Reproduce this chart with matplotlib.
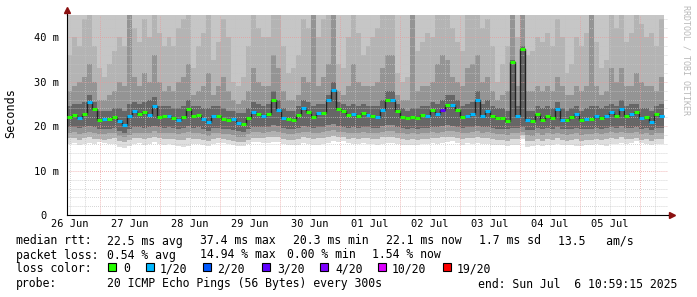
import numpy as np
import matplotlib
matplotlib.use('Agg')
import matplotlib.pyplot as plt
from matplotlib.patches import Rectangle
from matplotlib.transforms import ScaledTranslation

# time axis: hours since 26 Jun 00:00
t_start = 10.98      # 26 Jun 10:59
t_last = 249.8       # last consolidated bin
t_axis_end = 251.4
y_top = 45.0

# median rtt per 2h bin (ms)
median = [
    22.0, 22.6, 21.9, 22.8, 25.4, 23.8, 21.5, 21.6, 21.6, 22.0, 21.2, 20.3, 22.3, 23.5, 22.8, 23.3, 22.6, 24.5, 22.0, 22.2,
    22.2, 21.9, 21.4, 22.0, 23.8, 22.2, 22.5, 21.6, 21.0, 22.3, 22.2, 21.6, 21.3, 21.6, 20.8, 20.5, 21.9, 23.3, 22.7, 22.3,
    22.7, 26.0, 23.6, 21.9, 21.7, 21.5, 22.6, 24.0, 23.2, 22.0, 23.0, 23.0, 25.9, 28.2, 23.8, 23.5, 22.5, 22.7, 22.3, 23.0,
    22.6, 22.4, 22.0, 23.6, 25.8, 25.9, 23.5, 22.0, 21.8, 22.0, 21.8, 22.6, 22.3, 23.7, 22.7, 23.6, 24.8, 24.7, 23.6, 22.0,
    22.2, 22.8, 25.8, 22.4, 23.5, 22.4, 21.9, 21.9, 21.2, 34.5, 22.3, 37.4, 21.3, 21.1, 22.8, 21.4, 22.4, 21.9, 23.9, 21.5,
    21.4, 22.0, 22.7, 21.4, 21.6, 21.6, 22.3, 21.8, 22.2, 23.1, 22.4, 23.9, 22.3, 22.7, 23.3, 21.8, 22.1, 21.0, 22.7, 22.2]

# lost pings out of 20 per bin
loss = [
    0, 0, 1, 0, 1, 0, 0, 1, 0, 0, 1, 1, 1, 1, 0, 0, 1, 1, 0, 0,
    1, 0, 1, 0, 0, 0, 0, 1, 1, 1, 0, 0, 0, 1, 1, 0, 0, 1, 0, 1,
    0, 0, 1, 1, 0, 0, 0, 1, 0, 0, 1, 0, 1, 1, 0, 0, 0, 1, 0, 0,
    1, 0, 1, 1, 0, 1, 0, 0, 0, 0, 0, 0, 1, 0, 1, 3, 0, 1, 0, 0,
    1, 1, 1, 1, 1, 0, 0, 0, 0, 0, 1, 0, 1, 0, 0, 0, 0, 0, 1, 1,
    0, 0, 1, 0, 1, 0, 1, 0, 1, 1, 0, 1, 0, 1, 0, 1, 0, 1, 0, 1]

# smoke above the median (ms): dark top, mid top, light start
smoke_u1 = [
    24.5, 25, 25, 25.5, 27, 25.5, 23.5, 23.5, 23.5, 24, 24, 23.5, 25, 25.5, 25, 25.5, 26, 26.5, 24.5, 24.5,
    24.5, 24, 24, 24.5, 26, 24.5, 24.5, 24, 24, 24.5, 24.5, 24, 23.5, 23.5, 23, 23, 24, 25.5, 25, 24.5,
    25, 28, 26, 24, 23.5, 23.5, 24.5, 26, 25.5, 24.5, 25, 25, 27, 30, 25.5, 25, 24.5, 25, 24.5, 25,
    24.5, 24.5, 24.5, 26, 28, 28, 25, 24, 23.5, 24, 24, 24.5, 24.5, 25.5, 25, 26, 27, 27, 26, 24.5,
    25, 25.5, 28, 25, 26, 24.5, 24, 24, 23.5, 35, 24.5, 38, 23.5, 23.5, 24.5, 24, 24.5, 24, 25.5, 24,
    23.5, 24, 24.5, 23.5, 24, 24.5, 24.5, 24, 24.5, 25, 24.5, 26, 24.5, 25, 25, 24, 24, 23.5, 24.5, 25]
smoke_u2 = [
    28, 29, 30, 31, 34, 30, 26, 26, 27, 28, 30, 29, 46, 31, 29, 32, 30, 36, 30, 28,
    29, 28, 30, 31, 34, 27, 28, 29, 32, 27, 29, 31, 28, 26, 25, 26, 28, 33, 30, 29,
    29, 36, 33, 28, 26, 26, 27, 31, 30, 46, 29, 31, 34, 46, 28, 27, 29, 34, 30, 29,
    29, 29, 30, 33, 36, 36, 27, 26, 26, 46, 28, 29, 29, 30, 34, 36, 35, 31, 30, 29,
    33, 34, 36, 30, 31, 28, 26, 27, 28, 46, 29, 46, 28, 28, 29, 28, 29, 28, 31, 29,
    27, 27, 29, 28, 29, 46, 29, 27, 28, 33, 30, 33, 29, 29, 32, 30, 29, 29, 28, 31]
smoke_u3 = [
    36, 40, 38, 44, 46, 38, 33, 31, 34, 37, 40, 38, 46, 42, 39, 44, 40, 46, 41, 38,
    40, 38, 42, 44, 46, 33, 38, 41, 46, 35, 39, 44, 40, 30, 29, 31, 38, 46, 42, 40,
    40, 46, 46, 38, 32, 33, 36, 44, 42, 46, 40, 44, 46, 46, 34, 33, 40, 46, 41, 36,
    38, 40, 42, 46, 46, 46, 32, 30, 31, 46, 37, 39, 41, 40, 46, 46, 46, 42, 39, 37,
    46, 46, 46, 42, 44, 38, 30, 34, 38, 46, 40, 46, 36, 37, 40, 39, 41, 38, 44, 40,
    32, 34, 40, 38, 41, 46, 39, 33, 35, 46, 42, 46, 39, 41, 46, 43, 40, 41, 38, 44]

# smoke below the median (ms)
smoke_l1 = [
    19.8, 19.9, 19.6, 19.9, 20.0, 19.9, 19.5, 19.4, 19.5, 19.7, 19.0, 18.6, 19.3, 19.8, 19.9, 19.7, 19.8, 20.1, 19.8, 19.7,
    19.8, 19.6, 19.4, 19.6, 20.0, 19.7, 19.8, 19.4, 19.0, 19.6, 19.7, 19.5, 19.3, 19.2, 18.9, 18.7, 19.3, 19.9, 19.9, 19.8,
    19.9, 20.3, 20.0, 19.6, 19.5, 19.4, 19.7, 20.0, 19.9, 19.6, 19.8, 19.9, 20.2, 20.4, 20.0, 19.9, 19.7, 19.8, 19.7, 19.9,
    19.8, 19.7, 19.6, 20.0, 20.3, 20.3, 19.8, 19.6, 19.5, 19.6, 19.5, 19.7, 19.7, 19.9, 19.8, 20.0, 20.2, 20.1, 19.9, 19.6,
    19.8, 19.9, 20.1, 19.8, 19.9, 19.7, 19.5, 19.5, 19.3, 19.6, 19.6, 19.9, 19.2, 19.1, 19.6, 19.3, 19.6, 19.5, 19.8, 19.4,
    19.3, 19.5, 19.7, 19.3, 19.4, 19.4, 19.6, 19.5, 19.6, 19.9, 19.6, 20.0, 19.6, 19.7, 19.9, 19.5, 19.6, 19.2, 19.7, 19.6]
smoke_l2 = [
    18.6, 18.7, 18.3, 18.6, 18.8, 18.5, 18.3, 18.2, 18.4, 18.5, 17.8, 17.5, 18.0, 18.6, 18.6, 18.5, 18.6, 18.9, 18.6, 18.5,
    18.5, 18.4, 18.2, 18.4, 18.7, 18.5, 18.5, 18.2, 17.9, 18.4, 18.5, 18.3, 18.2, 18.0, 17.7, 17.6, 18.2, 18.7, 18.7, 18.6,
    18.7, 19.0, 18.8, 18.4, 18.3, 18.2, 18.5, 18.8, 18.7, 18.4, 18.6, 18.7, 19.0, 19.2, 18.8, 18.7, 18.5, 18.6, 18.5, 18.7,
    18.6, 18.5, 18.4, 18.8, 19.0, 19.0, 18.6, 18.4, 18.3, 18.4, 18.3, 18.5, 18.5, 18.7, 18.6, 18.8, 18.9, 18.9, 18.7, 18.4,
    18.6, 18.7, 18.9, 18.6, 18.7, 18.5, 18.3, 18.3, 18.1, 18.4, 18.4, 18.8, 18.0, 17.9, 18.4, 18.1, 18.4, 18.3, 18.6, 18.2,
    18.1, 18.3, 18.4, 18.1, 18.2, 18.2, 18.4, 18.3, 18.4, 18.7, 18.4, 18.8, 18.4, 18.5, 18.7, 18.3, 18.4, 18.0, 18.5, 18.4]
smoke_l3 = [
    17.3, 17.4, 17.0, 17.3, 17.5, 17.2, 17.1, 17.0, 17.2, 17.3, 16.7, 16.4, 16.9, 17.3, 17.4, 17.2, 17.3, 17.6, 17.3, 17.2,
    17.2, 17.1, 16.9, 17.0, 17.3, 17.2, 17.2, 16.9, 16.6, 17.1, 17.3, 17.1, 17.0, 16.8, 16.5, 16.4, 17.0, 17.4, 17.4, 17.3,
    17.5, 17.7, 17.5, 17.1, 17.0, 16.9, 17.2, 17.5, 17.4, 17.1, 17.3, 17.4, 17.7, 17.9, 17.6, 17.5, 17.2, 17.3, 17.2, 17.4,
    17.3, 17.2, 17.1, 17.5, 17.7, 17.7, 17.3, 17.1, 17.0, 17.1, 17.0, 17.2, 17.2, 17.4, 17.3, 17.5, 17.7, 17.6, 17.4, 17.1,
    17.3, 17.4, 17.6, 17.3, 17.4, 17.2, 17.0, 17.0, 16.8, 17.1, 17.1, 18.0, 16.7, 16.6, 17.1, 16.8, 17.1, 17.0, 17.3, 16.9,
    16.8, 17.0, 17.1, 16.8, 16.9, 16.9, 17.1, 17.0, 17.1, 17.4, 17.1, 17.5, 17.1, 17.2, 17.4, 17.0, 17.1, 16.7, 17.2, 17.1]
smoke_l4 = [
    16.0, 16.2, 15.8, 16.1, 16.3, 16.0, 16.4, 16.3, 16.1, 16.0, 15.4, 15.2, 15.6, 16.0, 16.2, 15.9, 16.1, 16.4, 16.0, 15.9,
    16.0, 15.8, 15.6, 15.3, 15.6, 16.0, 16.1, 15.8, 15.5, 16.1, 16.3, 16.2, 16.1, 15.8, 15.6, 15.5, 16.0, 16.4, 16.4, 16.3,
    16.2, 16.5, 16.4, 16.0, 15.8, 15.7, 15.9, 16.2, 16.0, 15.7, 15.8, 16.0, 16.3, 16.6, 16.5, 16.7, 16.2, 16.0, 16.1, 16.2,
    16.1, 16.0, 15.8, 16.0, 16.2, 16.3, 16.1, 15.9, 15.8, 15.9, 15.8, 16.0, 16.0, 16.2, 16.1, 16.3, 16.5, 16.6, 16.2, 15.9,
    16.2, 16.0, 16.3, 16.0, 16.1, 15.9, 15.7, 15.7, 15.5, 15.8, 15.9, 17.2, 15.4, 15.5, 15.9, 15.6, 15.9, 15.8, 16.1, 15.7,
    15.8, 15.9, 15.5, 15.6, 15.8, 15.9, 16.0, 15.7, 15.6, 16.1, 16.0, 16.2, 16.0, 16.2, 16.6, 16.3, 16.1, 15.8, 16.1, 16.0]

day_labels = ['26 Jun', '27 Jun', '28 Jun', '29 Jun', '30 Jun',
              '01 Jul', '02 Jul', '03 Jul', '04 Jul', '05 Jul']
y_ticks = [0, 10, 20, 30, 40]
y_labels = ['0', '10 m', '20 m', '30 m', '40 m']

loss_keys = [0, 1, 2, 3, 4, 10, 19]
loss_names = ['0', '1/20', '2/20', '3/20', '4/20', '10/20', '19/20']
loss_colors = ['#26ff00', '#00b8ff', '#0059ff', '#5e00ff', '#7e00ff', '#dd00ff', '#ff0000']

row1 = [(16, 'median rtt:'), (107, '22.5 ms avg'), (200, '37.4 ms max'), (293, '20.3 ms min'),
        (386, '22.1 ms now'), (479, '1.7 ms sd'), (558, '13.5   am/s')]
row2 = [(16, 'packet loss:'), (107, '0.54 % avg'), (200, '14.94 % max'), (287, '0.00 % min'),
        (372, '1.54 % now')]
row4 = [(16, 'probe:'), (107, '20 ICMP Echo Pings (56 Bytes) every 300s'),
        (478, 'end: Sun Jul  6 10:59:15 2025')]
swatch_x = [108, 146, 203, 262, 320, 378, 443]
swatch_label_x = [123, 160, 217, 277, 335, 392, 457]

W, H = 697, 297
mono = 'DejaVu Sans Mono'

fig = plt.figure(figsize=(W / 100, H / 100), dpi=100)
fig.patch.set_facecolor('white')
ax = fig.add_axes([67 / W, 1 - 215.3 / H, (668 - 67) / W, (215.3 - 15) / H])
ax.set_xlim(t_start, t_axis_end)
ax.set_ylim(0, y_top)

n = len(median)
edges = np.linspace(t_start, t_last, n + 1)
top = np.full(n, y_top + 1)

# smoke, outer (light) to inner (dark)
ax.stairs(top, edges, baseline=smoke_l4, fill=True, color='#dedede', lw=0, zorder=1)
ax.stairs(top, edges, baseline=smoke_l3, fill=True, color='#c6c6c6', lw=0, zorder=1)
ax.stairs(smoke_u3, edges, baseline=smoke_l3, fill=True, color='#b0b0b0', lw=0, zorder=1)
ax.stairs(smoke_u3, edges, baseline=smoke_l2, fill=True, color='#b4b4b4', lw=0, zorder=1)
ax.stairs(smoke_u2, edges, baseline=smoke_l2, fill=True, color='#949494', lw=0, zorder=1)
ax.stairs(smoke_u1, edges, baseline=smoke_l1, fill=True, color='#666666', lw=0, zorder=1)

# grid
dots = (0, (0.7, 1.4))
for t in np.arange(12, t_axis_end, 6):
    major = t % 24 == 0
    ax.axvline(t, color='#eb9a9a' if major else '#c4c4c4', lw=0.7, ls=dots, zorder=2)
for v in np.arange(2, y_top, 2):
    major = v % 10 == 0
    ax.axhline(v, color='#eb9a9a' if major else '#c4c4c4', lw=0.7, ls=dots, zorder=2)

# median line coloured by loss
ax.stairs(median, edges, baseline=None, color='#222222', lw=1.0, zorder=3)
seg_colors = [loss_colors[loss_keys.index(l)] for l in loss]
ax.hlines(median, edges[:-1], edges[1:], colors=seg_colors, lw=2.2, zorder=4,
          capstyle='butt')

# axes
for s in ['top', 'right']:
    ax.spines[s].set_visible(False)
ax.spines['left'].set_linewidth(0.8)
ax.spines['bottom'].set_linewidth(0.8)
ax.set_xticks([12 + 24 * k for k in range(len(day_labels))], day_labels)
ax.set_yticks(y_ticks, y_labels)
ax.tick_params(length=0, labelsize=7.5)
ax.tick_params(axis='x', pad=3)
ax.tick_params(axis='y', pad=6)
for lab in ax.get_xticklabels() + ax.get_yticklabels():
    lab.set_fontfamily(mono)
ax.get_yticklabels()[0].set_transform(
    ax.get_yticklabels()[0].get_transform() + ScaledTranslation(-0.12, 0, fig.dpi_scale_trans))

# arrows
ax.plot([t_start, t_start], [y_top, y_top + 1.0], color='black', lw=0.8, clip_on=False)
ax.plot([t_start], [y_top + 1.1], marker='^', ms=4, color='#8b1010', clip_on=False)
ax.plot([t_axis_end, t_axis_end + 1.4], [0, 0], color='black', lw=0.8, clip_on=False)
ax.plot([t_axis_end + 1.6], [0], marker='>', ms=4, color='#8b1010', clip_on=False)

fig.text(11 / W, 1 - 113.5 / H, 'Seconds', rotation=90, ha='center', va='center',
         fontsize=8.5, family=mono)
fig.text(686 / W, 1 - 5 / H, 'RRDTOOL / TOBI OETIKER', rotation=270, ha='center', va='top',
         fontsize=6, family=mono, color='#b8b8b8')

# legend
def put(x, y, s):
    fig.text(x / W, 1 - y / H, s, ha='left', va='center', fontsize=8.3, family=mono)

for x, s in row1:
    put(x, 241, s)
for x, s in row2:
    put(x, 255, s)
put(16, 269, 'loss color:')
for xs, xl, name, c in zip(swatch_x, swatch_label_x, loss_names, loss_colors):
    fig.add_artist(Rectangle((xs / W, 1 - 271 / H), 8 / W, 8 / H, transform=fig.transFigure,
                             facecolor=c, edgecolor='black', lw=0.8))
    put(xl, 269, name)
for x, s in row4:
    put(x, 284, s)

fig.savefig('out.png', dpi=100)
